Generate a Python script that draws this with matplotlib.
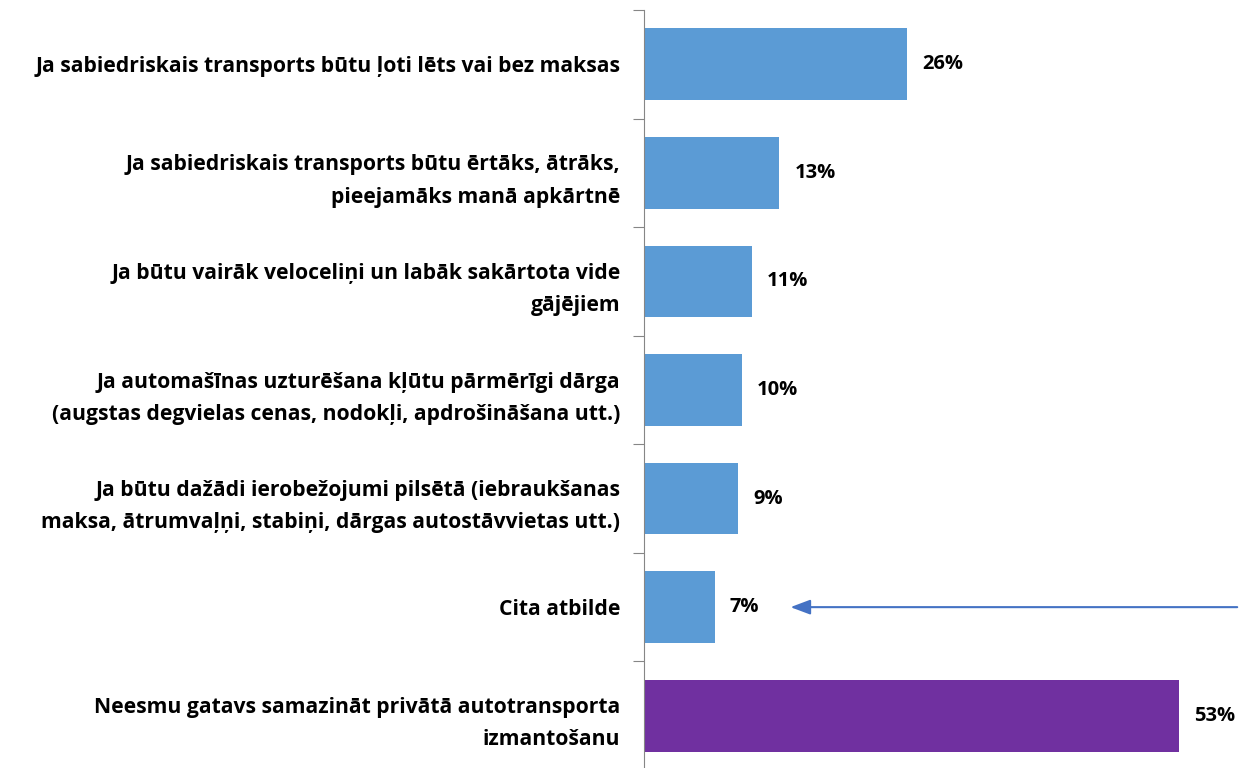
import matplotlib.pyplot as plt
import numpy as np

plt.rcParams['font.family'] = ['Open Sans', 'DejaVu Sans']

categories = [
    "Ja sabiedriskais transports būtu ļoti lēts vai bez maksas",
    "Ja sabiedriskais transports būtu ērtāks, ātrāks,\npieejamāks manā apkārtnē",
    "Ja būtu vairāk veloceliņi un labāk sakārtota vide\ngājējiem",
    "Ja automašīnas uzturēšana kļūtu pārmērīgi dārga\n(augstas degvielas cenas, nodokļi, apdrošināšana utt.)",
    "Ja būtu dažādi ierobežojumi pilsētā (iebraukšanas\nmaksa, ātrumvaļņi, stabiņi, dārgas autostāvvietas utt.)",
    "Cita atbilde",
    "Neesmu gatavs samazināt privātā autotransporta\nizmantošanu",
]
values = [26.0, 13.4, 10.7, 9.7, 9.3, 7.0, 53.0]
labels = ["26%", "13%", "11%", "10%", "9%", "7%", "53%"]
colors = ["#5B9BD5"] * 6 + ["#7030A0"]

fig = plt.figure(figsize=(12.39, 7.68), dpi=100)
ax = fig.add_axes([644 / 1239, -2 / 768, 595 / 1239, 760 / 768])

y = np.arange(len(categories))
ax.barh(y, values, height=0.66, color=colors)
ax.set_ylim(len(categories) - 0.5, -0.5)
ax.set_xlim(0, 58.9)

for yi, v, lab in zip(y, values, labels):
    ax.text(v + 1.5, yi, lab, va="center", ha="left", fontsize=14.5, fontweight="bold")

# arrow pointing at "Cita atbilde"
ax.annotate("", xy=(14.5, 5), xytext=(0.997, 5),
            textcoords=("axes fraction", "data"),
            arrowprops=dict(arrowstyle="-|>,head_length=1.2,head_width=0.45",
                            color="#4472C4", lw=1.5, shrinkA=0, shrinkB=0))

ax.set_yticks(np.arange(len(categories) + 1) - 0.5, minor=False)
ax.set_yticklabels([])
ax.set_yticks(y, minor=True)
ax.set_yticklabels(categories, minor=True, fontsize=15.2, fontweight="bold",
                   ha="right", linespacing=1.7)
ax.tick_params(axis="y", which="minor", length=0, pad=17)
ax.tick_params(axis="y", which="major", length=8, color="#868686")
ax.set_xticks([])
for s in ["top", "right", "bottom"]:
    ax.spines[s].set_visible(False)
ax.spines["left"].set_color("#868686")

plt.savefig("out.png", dpi=100)
